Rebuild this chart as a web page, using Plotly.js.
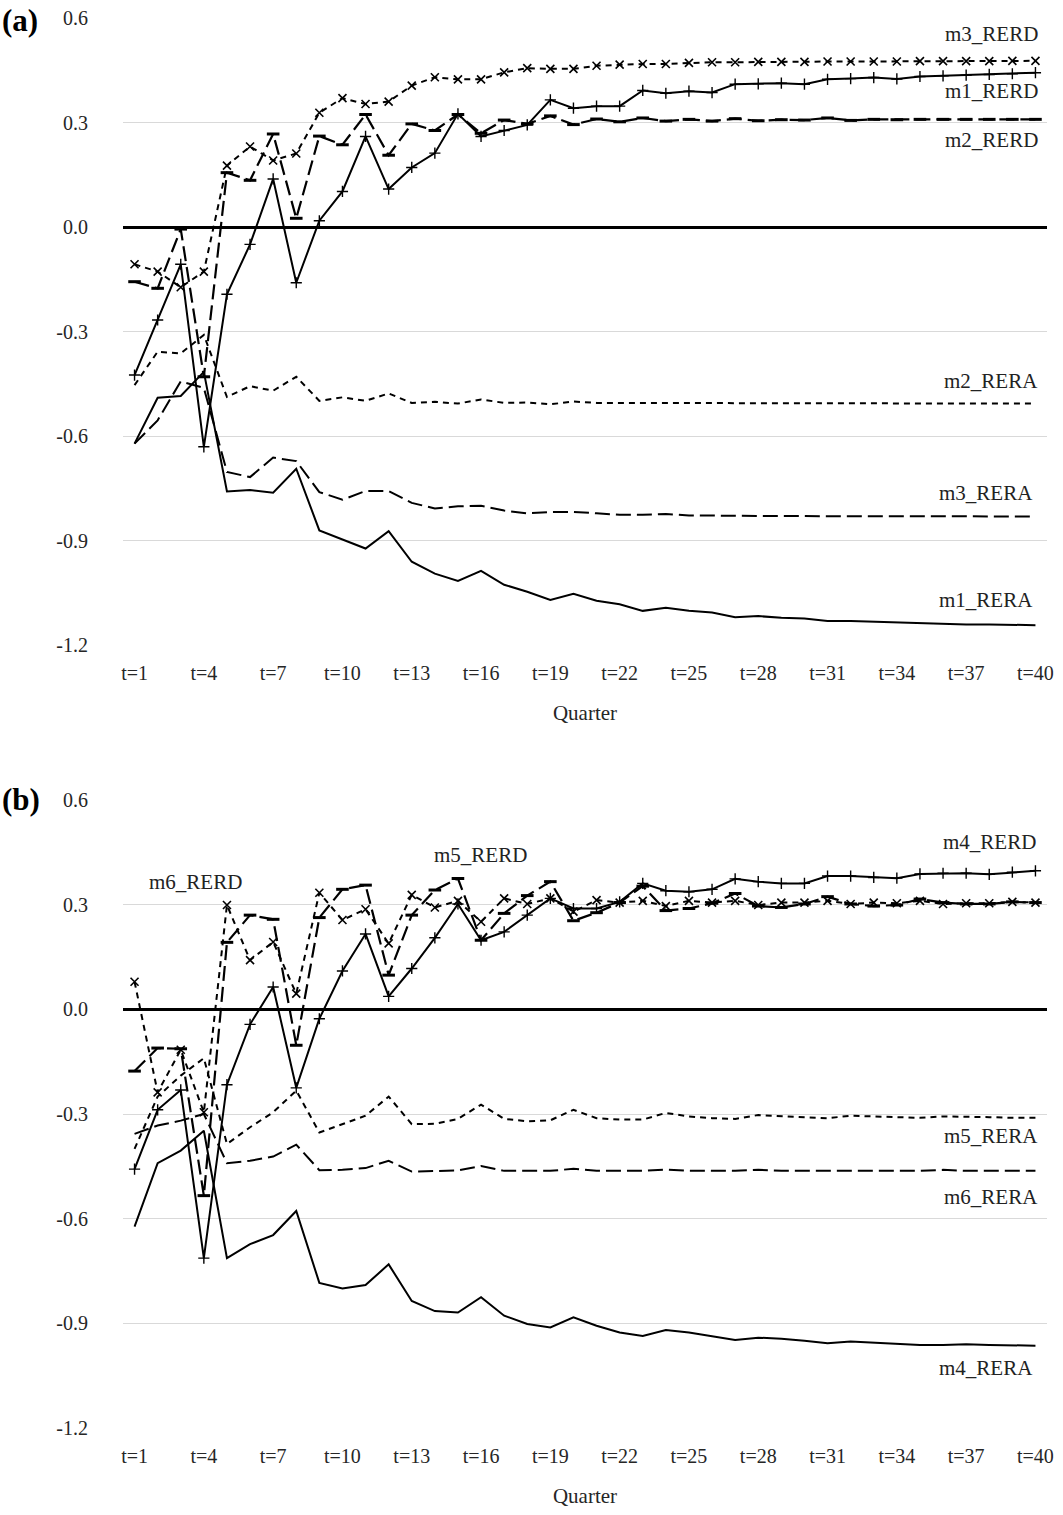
<!DOCTYPE html>
<html>
<head>
<meta charset="utf-8">
<script src="https://cdn.plot.ly/plotly-3.0.1.min.js"></script>
<style>html,body{margin:0;padding:0;background:#fff;}#chart{width:1063px;height:1515px;}</style>
</head>
<body>
<div id="chart"></div>
<script>
const quarters = [1,2,3,4,5,6,7,8,9,10,11,12,13,14,15,16,17,18,19,20,21,22,23,24,25,26,27,28,29,30,31,32,33,34,35,36,37,38,39,40];
const tickQuarters = [1,4,7,10,13,16,19,22,25,28,31,34,37,40];
const tickLabels = ["t=1","t=4","t=7","t=10","t=13","t=16","t=19","t=22","t=25","t=28","t=31","t=34","t=37","t=40"];
const yTickVals = [0.6, 0.3, 0.0, -0.3, -0.6, -0.9, -1.2];
const yTickLabels = ["0.6", "0.3", "0.0", "-0.3", "-0.6", "-0.9", "-1.2"];

// Panel (a)
const m1_RERD = [-0.425,-0.267,-0.107,-0.631,-0.193,-0.050,0.138,-0.160,0.018,0.102,0.260,0.109,0.171,0.212,0.325,0.260,0.277,0.293,0.365,0.341,0.347,0.347,0.392,0.384,0.390,0.386,0.410,0.411,0.413,0.410,0.424,0.426,0.429,0.425,0.432,0.434,0.436,0.438,0.440,0.443];
const m2_RERD = [-0.157,-0.176,-0.006,-0.430,0.156,0.134,0.267,0.025,0.261,0.236,0.323,0.206,0.296,0.277,0.323,0.269,0.307,0.296,0.319,0.294,0.310,0.302,0.313,0.304,0.309,0.304,0.311,0.305,0.308,0.307,0.313,0.306,0.309,0.308,0.309,0.309,0.309,0.309,0.309,0.309];
const m3_RERD = [-0.107,-0.128,-0.173,-0.128,0.176,0.231,0.191,0.211,0.328,0.370,0.353,0.360,0.406,0.430,0.424,0.424,0.444,0.456,0.454,0.454,0.463,0.466,0.468,0.468,0.471,0.473,0.473,0.474,0.474,0.474,0.475,0.475,0.475,0.475,0.476,0.476,0.476,0.476,0.477,0.477];
const m1_RERA = [-0.622,-0.490,-0.485,-0.416,-0.759,-0.755,-0.763,-0.694,-0.871,-0.898,-0.923,-0.873,-0.961,-0.995,-1.016,-0.987,-1.027,-1.047,-1.071,-1.053,-1.073,-1.083,-1.102,-1.093,-1.102,-1.107,-1.120,-1.117,-1.122,-1.124,-1.131,-1.131,-1.133,-1.135,-1.139,-1.139,-1.141,-1.141,-1.143,-1.143];
const m2_RERA = [-0.454,-0.358,-0.363,-0.310,-0.488,-0.457,-0.470,-0.430,-0.499,-0.489,-0.499,-0.478,-0.505,-0.502,-0.507,-0.495,-0.505,-0.504,-0.509,-0.501,-0.505,-0.505,-0.505,-0.505,-0.505,-0.506,-0.506,-0.505,-0.506,-0.506,-0.506,-0.506,-0.506,-0.506,-0.506,-0.507,-0.507,-0.507,-0.507,-0.507];
const m3_RERA = [-0.622,-0.555,-0.443,-0.462,-0.703,-0.718,-0.662,-0.672,-0.761,-0.783,-0.758,-0.758,-0.792,-0.808,-0.802,-0.800,-0.814,-0.822,-0.818,-0.818,-0.822,-0.826,-0.826,-0.824,-0.828,-0.829,-0.829,-0.829,-0.830,-0.830,-0.830,-0.830,-0.830,-0.831,-0.831,-0.831,-0.831,-0.831,-0.831,-0.831];

// Panel (b)
const m4_RERD = [-0.458,-0.288,-0.231,-0.713,-0.216,-0.043,0.064,-0.225,-0.027,0.110,0.216,0.037,0.117,0.205,0.302,0.198,0.222,0.270,0.318,0.289,0.289,0.308,0.361,0.340,0.337,0.344,0.374,0.366,0.361,0.361,0.382,0.382,0.378,0.376,0.388,0.390,0.390,0.387,0.393,0.397];
const m5_RERD = [-0.177,-0.111,-0.113,-0.534,0.192,0.270,0.258,-0.103,0.263,0.344,0.356,0.098,0.270,0.342,0.375,0.198,0.275,0.326,0.366,0.254,0.277,0.306,0.353,0.283,0.289,0.304,0.332,0.296,0.292,0.302,0.323,0.302,0.296,0.299,0.316,0.306,0.302,0.302,0.308,0.306];
const m6_RERD = [0.079,-0.238,-0.116,-0.295,0.299,0.141,0.193,0.045,0.334,0.256,0.287,0.189,0.328,0.292,0.311,0.251,0.318,0.302,0.318,0.280,0.313,0.306,0.311,0.296,0.311,0.306,0.311,0.299,0.306,0.306,0.311,0.302,0.306,0.304,0.311,0.302,0.304,0.304,0.308,0.306];
const m4_RERA = [-0.623,-0.441,-0.405,-0.348,-0.713,-0.673,-0.647,-0.578,-0.784,-0.800,-0.790,-0.731,-0.836,-0.865,-0.869,-0.825,-0.878,-0.902,-0.912,-0.883,-0.907,-0.926,-0.936,-0.919,-0.926,-0.938,-0.948,-0.941,-0.944,-0.950,-0.957,-0.952,-0.955,-0.957,-0.962,-0.962,-0.960,-0.962,-0.964,-0.964];
const m5_RERA = [-0.400,-0.250,-0.190,-0.140,-0.386,-0.338,-0.295,-0.233,-0.353,-0.329,-0.305,-0.250,-0.329,-0.328,-0.314,-0.273,-0.314,-0.321,-0.318,-0.288,-0.312,-0.316,-0.316,-0.297,-0.307,-0.312,-0.314,-0.303,-0.305,-0.309,-0.312,-0.305,-0.307,-0.309,-0.311,-0.307,-0.307,-0.309,-0.311,-0.311];
const m6_RERA = [-0.357,-0.333,-0.319,-0.300,-0.441,-0.434,-0.422,-0.388,-0.461,-0.460,-0.455,-0.434,-0.465,-0.464,-0.462,-0.449,-0.463,-0.463,-0.463,-0.457,-0.463,-0.463,-0.463,-0.459,-0.463,-0.463,-0.463,-0.460,-0.463,-0.463,-0.463,-0.461,-0.463,-0.463,-0.463,-0.460,-0.463,-0.463,-0.463,-0.463];

const SHORT = '6px,5px';
const LONG = '15px,6px';
const BLACK = '#000000';

function solidPlus(y, xa, ya, name) {
  return {x: quarters, y: y, xaxis: xa, yaxis: ya, name: name, mode: 'lines+markers',
    line: {color: BLACK, width: 2},
    marker: {symbol: 'cross-thin-open', size: 8, line: {color: BLACK, width: 1.4}}};
}
function longDash(y, xa, ya, name) {
  return {x: quarters, y: y, xaxis: xa, yaxis: ya, name: name, mode: 'lines+markers',
    line: {color: BLACK, width: 2.2, dash: LONG},
    marker: {symbol: 'line-ew-open', size: 9, line: {color: BLACK, width: 3}}};
}
function shortX(y, xa, ya, name) {
  return {x: quarters, y: y, xaxis: xa, yaxis: ya, name: name, mode: 'lines+markers',
    line: {color: BLACK, width: 2, dash: SHORT},
    marker: {symbol: 'x-thin-open', size: 8, line: {color: BLACK, width: 1.6}}};
}
function plain(y, xa, ya, name, dash) {
  return {x: quarters, y: y, xaxis: xa, yaxis: ya, name: name, mode: 'lines',
    line: {color: BLACK, width: 2, dash: dash}};
}

const data = [
  plain(m1_RERA, 'x', 'y', 'm1_RERA', 'solid'),
  plain(m2_RERA, 'x', 'y', 'm2_RERA', SHORT),
  plain(m3_RERA, 'x', 'y', 'm3_RERA', LONG),
  solidPlus(m1_RERD, 'x', 'y', 'm1_RERD'),
  longDash(m2_RERD, 'x', 'y', 'm2_RERD'),
  shortX(m3_RERD, 'x', 'y', 'm3_RERD'),
  plain(m4_RERA, 'x2', 'y2', 'm4_RERA', 'solid'),
  plain(m5_RERA, 'x2', 'y2', 'm5_RERA', SHORT),
  plain(m6_RERA, 'x2', 'y2', 'm6_RERA', LONG),
  solidPlus(m4_RERD, 'x2', 'y2', 'm4_RERD'),
  longDash(m5_RERD, 'x2', 'y2', 'm5_RERD'),
  shortX(m6_RERD, 'x2', 'y2', 'm6_RERD')
];

const FONT = 'Liberation Serif, Times New Roman, serif';
const xDomain = [123/1063, 1047/1063];

function xAxis(anchor) {
  return {domain: xDomain, anchor: anchor, range: [0.5, 40.5], tickmode: 'array',
    tickvals: tickQuarters, ticktext: tickLabels, showgrid: false, zeroline: false,
    showline: false, ticks: '', ticklabelstandoff: 14,
    tickfont: {family: FONT, size: 20, color: '#262626'},
    title: {text: 'Quarter', font: {family: FONT, size: 21, color: '#262626'}, standoff: 22}};
}
function yAxis(domain, anchor) {
  return {domain: domain, anchor: anchor, range: [-1.2, 0.6], tickmode: 'array',
    tickvals: yTickVals, ticktext: yTickLabels,
    showgrid: true, gridcolor: '#d9d9d9', gridwidth: 1,
    zeroline: true, zerolinecolor: BLACK, zerolinewidth: 3, showline: false, ticks: '',
    ticklabelstandoff: 34, tickfont: {family: FONT, size: 20, color: '#262626'}};
}

function label(text, x, y, xa, ya, anchor) {
  return {text: text, x: x, y: y, xref: xa, yref: ya, showarrow: false,
    xanchor: anchor || 'right', yanchor: 'middle',
    font: {family: FONT, size: 21, color: '#222'}};
}

const layout = {
  width: 1063, height: 1515,
  margin: {l: 0, r: 0, t: 0, b: 0},
  paper_bgcolor: '#ffffff', plot_bgcolor: '#ffffff',
  showlegend: false,
  xaxis: xAxis('y'),
  yaxis: yAxis([1 - 645/1515, 1 - 18/1515], 'x'),
  xaxis2: xAxis('y2'),
  yaxis2: yAxis([1 - 1428/1515, 1 - 800/1515], 'x2'),
  annotations: [
    {text: '<b>(a)</b>', x: 0, y: 1 - 20/1515, xref: 'paper', yref: 'paper', xanchor: 'left', yanchor: 'middle', showarrow: false, font: {family: FONT, size: 31, color: '#000'}},
    {text: '<b>(b)</b>', x: 0, y: 1 - 800/1515, xref: 'paper', yref: 'paper', xanchor: 'left', yanchor: 'middle', showarrow: false, font: {family: FONT, size: 31, color: '#000'}},
    label('m3_RERD', 40.2, 0.555, 'x', 'y'),
    label('m1_RERD', 40.2, 0.391, 'x', 'y'),
    label('m2_RERD', 40.2, 0.250, 'x', 'y'),
    label('m2_RERA', 40.2, -0.443, 'x', 'y'),
    label('m3_RERA', 40.0, -0.764, 'x', 'y'),
    label('m1_RERA', 40.0, -1.072, 'x', 'y'),
    label('m4_RERD', 40.1, 0.480, 'x2', 'y2'),
    label('m6_RERD', 3.62, 0.365, 'x2', 'y2', 'center'),
    label('m5_RERD', 15.96, 0.443, 'x2', 'y2', 'center'),
    label('m5_RERA', 40.2, -0.362, 'x2', 'y2'),
    label('m6_RERA', 40.2, -0.537, 'x2', 'y2'),
    label('m4_RERA', 40.0, -1.029, 'x2', 'y2')
  ]
};

Plotly.newPlot('chart', data, layout, {displayModeBar: false, staticPlot: true});
</script>
</body>
</html>
